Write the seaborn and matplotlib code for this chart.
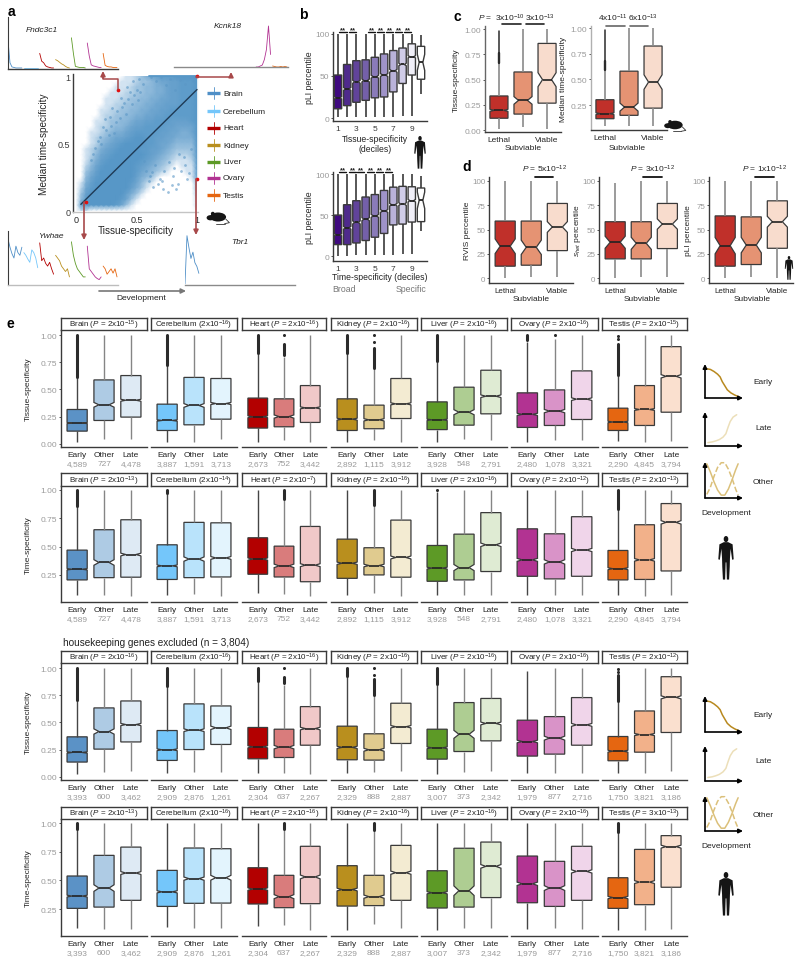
import matplotlib
matplotlib.use('Agg')
import matplotlib.pyplot as plt
import pandas as pd
import seaborn as sns
from matplotlib.colors import LinearSegmentedColormap
from matplotlib.patches import Circle, Ellipse, Polygon

sns.set_style('white')
plt.rcParams['font.family'] = ['Liberation Sans', 'DejaVu Sans']
plt.rcParams['mathtext.fontset'] = 'custom'
plt.rcParams['mathtext.rm'] = 'Liberation Sans'
plt.rcParams['mathtext.it'] = 'Liberation Sans:italic'
plt.rcParams['mathtext.bf'] = 'Liberation Sans:bold'

W, H = 800, 962
GREY = '#9a9a9a'
DARK = '#3a3a3a'

# ---- panel a ----
TISSUES = ['Brain', 'Cerebellum', 'Heart', 'Kidney', 'Liver', 'Ovary', 'Testis']
TISSUE_COLORS = ['#4f8fc7', '#74c6fa', '#b30000', '#b98f1e', '#5d9a26', '#b23392', '#e56611']

# density of the scatter cloud, one digit per grid node, top row is y = 1
cloud_rows = [
    '0000000000112356788899999',
    '0000000001112334566778889',
    '0000000011123344556778889',
    '0000000111223344556778889',
    '0000001112233445566778889',
    '0000001122334455667778889',
    '0000011223344556677888889',
    '0000012233445566778888889',
    '0000112334456677888777789',
    '0000122344567788887766669',
    '0001123455678888877665569',
    '0001234566789988776655559',
    '0001245678999988766544449',
    '0012356789999887765433339',
    '0012467899999987654322239',
    '0013578999999876543211129',
    '0024689999998765432101119',
    '0035799999998654321000118',
    '0046899999997543100000017',
    '0157999999986421000000004',
    '0268999999975310000000003',
    '0379999999753100000000002',
    '0489999998631000000000001',
    '0799999986310000000000001',
    '0110000000000000000000000',
]
speckle_x = [.12, .16, .2, .22, .25, .28, .3, .33, .37, .4, .42, .45, .47, .5, .52, .55, .6, .64,
             .68, .72, .76, .8, .84, .87, .9, .93, .62, .66, .7, .74, .78, .82, .86, .9, .94, .97,
             .14, .18, .21, .24, .27, .29, .31, .34, .36, .38, .41, .43, .46, .48, .51, .53,
             .58, .61, .65, .69, .73, .77, .81, .85, .89, .92, .95, .56, .63, .71, .79, .83]
speckle_y = [.38, .47, .55, .62, .6, .7, .76, .66, .84, .8, .92, .88, .96, .9, .98, .94, .22, .18,
             .2, .16, .14, .26, .2, .3, .34, .28, .99, .96, .99, .93, .98, .9, .97, .94, .99, .96,
             .42, .52, .5, .68, .56, .63, .58, .74, .69, .77, .72, .83, .79, .86, .82, .88,
             .3, .26, .34, .24, .3, .36, .32, .42, .4, .24, .46, .37, .29, .22, .19, .16]
diag_x = [.04, 1]
diag_y = [.05, .9]
right_x = [1, 1]
right_y = [.25, 1]
top_x = [.6, 1]
top_y = [1, 1]
red_x = [.08, .35, 1, 1]
red_y = [.07, .9, 1, .24]

# expression over development, one list per tissue
fndc3c1 = [[.55, .12, .04, .03, .02, .02, .02, .02], [.02, .02, .02, .02, .02, .02, .02, .02],
           [.3, .15, .12, .06, .04, .03, .02, .02], [.18, .16, .13, .1, .08, .05, .03, .02],
           [.6, .3, .05, .04, .03, .03, .03, .02], [.5, .25, .08, .06, .05, .04, .03, .03],
           [.3, .07, .05, .04, .04, .03, .03, .03]]
kcnk18 = [[0, 0, 0, 0, 0, 0, 0, 0], [0, 0, 0, 0, 0, 0, 0, 0], [0, 0, 0, 0, 0, 0, 0, 0],
          [0, 0, 0, 0, 0, 0, 0, 0], [0, 0, 0, 0, 0, 0, 0, 0], [0, 0, .02, .04, .15, .35, .82, .25],
          [.02, .01, 0, 0, .01, 0, .01, 0]]
ywhae = [[.85, .7, .58, .5, .72, .6, .55, .7], [.6, .55, .48, .42, .65, .6, .5, .32],
         [.78, .45, .5, .4, .35, .42, .3, .2], [.55, .5, .45, .35, .3, .25, .3, .15],
         [.8, .55, .4, .3, .25, .2, .15, .15], [.72, .3, .25, .2, .15, .12, .1, .15],
         [.35, .3, .2, .25, .3, .22, .3, .15]]
tbr1 = [[.02, .93, .7, .5, .62, .42, .35, .22], [0, 0, 0, 0, 0, 0, 0, 0], [0, 0, 0, 0, 0, 0, 0, 0],
        [0, 0, 0, 0, 0, 0, 0, 0], [0, 0, 0, 0, 0, 0, 0, 0], [0, 0, 0, 0, 0, 0, 0, 0],
        [0, 0, 0, 0, 0, 0, 0, 0]]

# ---- panel b: (low, q1, median, q3, high) ----
DECILES = ['1', '2', '3', '4', '5', '6', '7', '8', '9', '10']
DECILE_TICKS = ['1', '', '3', '', '5', '', '7', '', '9', '']
decile_colors = ['#3f0a7f', '#4f2a8c', '#61439a', '#7460a9', '#8a7bb9', '#9f93c8', '#b9b2d9',
                 '#d0cce8', '#f0eff8', '#ffffff']
decile_n = [1800, 1800, 1800, 1800, 1800, 1800, 1800, 1800, 1800, 40]
pli_by_tissue = [(1, 11, 24, 51, 100), (1, 14.7, 34.5, 63.5, 100), (1, 18.7, 43, 68, 100),
                 (1, 21, 44.5, 69, 100), (1, 24, 49, 72, 100), (1, 25, 51, 76, 100),
                 (1, 31, 56, 80, 100), (3, 41, 63.5, 83, 100), (3, 51, 72.6, 88, 100),
                 (28.5, 46, 66, 85, 98)]
pli_by_time = [(.5, 14, 26, 50, 100), (.5, 14, 34.5, 62.6, 100), (1, 16, 41, 67.5, 100),
               (1, 19, 45, 72, 100), (1, 23, 49, 75, 100), (1, 27.6, 55, 80, 100),
               (1, 38, 62.6, 84, 100), (2, 39, 63.4, 85, 100), (2.5, 41.5, 67.5, 84.5, 100),
               (31, 42, 68, 83, 98)]

# ---- panels c and d ----
VIABILITY = ['Lethal', 'Subviable', 'Viable']
viability_colors = ['#c0302a', '#e59373', '#f8dccd']
c_tissue = [(.01, .119, .197, .339, .66), (.034, .16, .295, .576, 1), (.01, .268, .5, .858, 1)]
c_time = [(.045, .117, .166, .302, .59), (.05, .15, .23, .58, 1), (.05, .22, .474, .825, 1)]
c_n = [1200, 300, 180]
c_tissue_fliers = [(.66, .76), (.76, .98)]
c_time_fliers = [(.59, .68), (.68, .98)]
d_rvis = [(0, 12.3, 32.8, 58.7, 100), (1, 13.3, 31.7, 58.7, 100), (1, 28.3, 52.6, 76.8, 100)]
d_shet = [(0, 19.8, 36.9, 58, 97.6), (1, 19.8, 35.8, 58, 100), (1, 30.4, 55.6, 76.8, 100)]
d_pli = [(0, 12.3, 33.4, 64, 100), (1, 14, 34, 63, 100), (0, 30.7, 58, 79.5, 100)]
d_n = [92, 92, 190]

# ---- panel e ----
STAGES = ['Early', 'Other', 'Late']
stage_colors = [['#5b92c6', '#aecbe4', '#deeaf4'], ['#74c6fa', '#b9e3fb', '#e3f4fd'],
                ['#b30000', '#d97c7c', '#f0c8c8'], ['#b98f1e', '#e0cb8f', '#f3ebd2'],
                ['#5d9a26', '#aecd92', '#dfebd3'], ['#b23392', '#d993c8', '#f0d5ea'],
                ['#e56611', '#f2b18a', '#fae0cf']]

n_all = [[4589, 727, 4478], [3887, 1591, 3713], [2673, 752, 3442], [2892, 1115, 3912],
         [3928, 548, 2791], [2480, 1078, 3321], [2290, 4845, 3794]]
n_nohk = [[3393, 600, 3462], [2909, 2876, 1261], [2304, 637, 2267], [2329, 888, 2887],
          [3007, 373, 2342], [1979, 877, 2716], [1750, 3821, 3186]]

tissue_all = [
    [(.015, .116, .19, .315, .61), (.04, .214, .358, .587, 1), (.04, .245, .4, .627, 1)],
    [(.02, .122, .214, .364, .72), (.02, .174, .352, .61, 1), (.04, .226, .37, .6, 1)],
    [(.02, .144, .248, .42, .83), (.03, .156, .25, .413, .8), (.02, .196, .33, .535, 1)],
    [(.02, .122, .226, .413, .83), (.035, .138, .22, .355, .7), (.02, .232, .367, .6, 1)],
    [(.015, .13, .22, .385, .765), (.04, .171, .29, .52, 1), (.035, .275, .437, .676, 1)],
    [(.02, .15, .27, .468, .94), (.03, .168, .3, .495, .96), (.03, .223, .41, .67, 1)],
    [(.025, .122, .2, .327, .636), (.02, .168, .315, .535, 1), (.025, .29, .62, .893, 1)],
]
time_all = [
    [(.07, .206, .3, .469, .86), (.07, .226, .36, .649, 1), (.06, .23, .43, .737, 1)],
    [(.07, .21, .33, .516, .97), (.08, .226, .39, .714, 1), (.06, .232, .4, .71, 1)],
    [(.09, .256, .39, .578, 1), (.085, .232, .33, .504, .92), (.06, .19, .336, .678, 1)],
    [(.07, .22, .353, .566, 1), (.09, .25, .333, .49, .87), (.06, .23, .404, .734, 1)],
    [(.07, .194, .31, .51, .98), (.07, .206, .315, .61, 1), (.07, .28, .516, .8, 1)],
    [(.07, .238, .383, .657, 1), (.07, .215, .365, .613, 1), (.07, .238, .47, .764, 1)],
    [(.07, .206, .305, .466, .83), (.06, .21, .383, .693, 1), (.07, .285, .714, .88, 1)],
]
tissue_nohk = [
    [(.025, .135, .223, .367, .71), (.04, .254, .416, .633, 1), (.05, .32, .48, .697, 1)],
    [(.03, .15, .248, .425, .83), (.04, .25, .428, .67, 1), (.04, .297, .45, .651, 1)],
    [(.03, .165, .275, .453, .88), (.03, .177, .272, .437, .84), (.025, .29, .443, .645, 1)],
    [(.03, .156, .27, .465, .93), (.04, .153, .248, .395, .75), (.05, .306, .46, .676, 1)],
    [(.025, .162, .266, .437, .85), (.04, .232, .39, .682, 1), (.05, .33, .49, .72, 1)],
    [(.03, .19, .324, .52, .975), (.03, .208, .355, .553, 1), (.03, .29, .477, .728, 1)],
    [(.03, .147, .235, .37, .697), (.03, .226, .388, .605, 1), (.05, .407, .73, .92, 1)],
]
time_nohk = [
    [(.085, .256, .363, .538, .95), (.08, .267, .433, .718, 1), (.08, .326, .564, .79, 1)],
    [(.09, .273, .4, .587, 1), (.085, .3, .515, .782, 1), (.085, .302, .523, .776, 1)],
    [(.105, .294, .424, .61, 1), (.108, .262, .358, .544, .95), (.07, .297, .53, .797, 1)],
    [(.07, .276, .42, .628, 1), (.116, .28, .358, .544, .94), (.085, .326, .567, .805, 1)],
    [(.07, .259, .392, .584, 1), (.085, .267, .41, .78, 1), (.085, .35, .622, .834, 1)],
    [(.08, .305, .47, .712, 1), (.085, .273, .433, .666, 1), (.08, .326, .578, .797, 1)],
    [(.07, .256, .35, .523, .92), (.07, .288, .485, .77, 1), (.08, .44, .794, .89, 1)],
]

# outliers as (tissue index, stage index, low, high); low == high is a single dot
fliers_tissue_all = [(0, 0, .61, 1), (1, 0, .72, 1), (2, 0, .83, 1), (2, 1, .82, .92), (2, 1, 1, 1),
                     (3, 0, .83, 1), (3, 1, .7, .88), (3, 1, .94, .94), (3, 1, 1, 1), (4, 0, .765, 1),
                     (5, 0, .95, 1), (5, 1, 1, 1), (6, 0, .636, .92), (6, 0, .96, .96), (6, 0, .99, .99)]
fliers_time_all = [(0, 0, .86, 1), (1, 0, .97, 1), (2, 1, .92, 1), (3, 1, .87, 1), (4, 0, 1, 1),
                   (6, 0, .83, 1)]
fliers_tissue_nohk = [(0, 0, .71, 1), (1, 0, .83, 1), (2, 0, .88, 1), (2, 1, .86, .92), (2, 1, 1, 1),
                      (3, 0, .93, 1), (3, 1, .75, .9), (3, 1, .94, .94), (3, 1, 1, 1), (4, 0, .85, 1),
                      (6, 0, .697, .933), (6, 0, .96, .96), (6, 0, .99, .99)]
fliers_time_nohk = [(0, 0, .95, 1), (2, 1, .95, 1), (3, 1, .94, 1), (6, 0, .92, 1)]

strips_tissue_all = ['Brain ($\\mathit{P}$ = 2x10$^{-15}$)', 'Cerebellum (2x10$^{-16}$)',
                     'Heart ($\\mathit{P}$ = 2x10$^{-16}$)', 'Kidney ($\\mathit{P}$ = 2x10$^{-16}$)',
                     'Liver ($\\mathit{P}$ = 2x10$^{-16}$)', 'Ovary ($\\mathit{P}$ = 2x10$^{-16}$)',
                     'Testis ($\\mathit{P}$ = 2x10$^{-15}$)']
strips_time_all = ['Brain ($\\mathit{P}$ = 2x10$^{-13}$)', 'Cerebellum (2x10$^{-14}$)',
                   'Heart ($\\mathit{P}$ = 2x10$^{-7}$)', 'Kidney ($\\mathit{P}$ = 2x10$^{-16}$)',
                   'Liver ($\\mathit{P}$ = 2x10$^{-16}$)', 'Ovary ($\\mathit{P}$ = 2x10$^{-12}$)',
                   'Testis ($\\mathit{P}$ = 2x10$^{-13}$)']
strips_tissue_nohk = ['Brain ($\\mathit{P}$ = 2x10$^{-16}$)', 'Cerebellum (2x10$^{-16}$)',
                      'Heart ($\\mathit{P}$ = 2x10$^{-16}$)', 'Kidney ($\\mathit{P}$ = 2x10$^{-16}$)',
                      'Liver ($\\mathit{P}$ = 2x10$^{-16}$)', 'Ovary ($\\mathit{P}$ = 2x10$^{-16}$)',
                      'Testis ($\\mathit{P}$ = 2x10$^{-12}$)']
strips_time_nohk = ['Brain ($\\mathit{P}$ = 2x10$^{-13}$)', 'Cerebellum (2x10$^{-16}$)',
                    'Heart ($\\mathit{P}$ = 2x10$^{-16}$)', 'Kidney ($\\mathit{P}$ = 2x10$^{-16}$)',
                    'Liver ($\\mathit{P}$ = 2x10$^{-16}$)', 'Ovary ($\\mathit{P}$ = 2x10$^{-16}$)',
                    'Testis ($\\mathit{P}$ = 3x10$^{-13}$)']

# pixel layout of the facet columns
panel_left = [61, 151, 242, 331, 421, 511, 602]
panel_right = [147, 237, 326, 417, 507, 598, 687]

fig = plt.figure(figsize=(W / 100, H / 100), dpi=100)


def px_axes(left, top, right, bottom, **kw):
    return fig.add_axes([left / W, 1 - bottom / H, (right - left) / W, (bottom - top) / H], **kw)


def expand(stats, n):
    # a sample of about n values with exactly these quartiles, so the notches come out from n
    low, q1, med, q3, high = stats
    m = n // 4
    return [low] * m + [q1] * m + [med] + [q3] * m + [high] * m


def draw_boxes(ax, stats, counts, names, colors, width=.75, lw=.9, whisk=None, whisk_lw=1.0):
    rows = []
    for name, s, n in zip(names, stats, counts):
        rows.append(pd.DataFrame({'group': name, 'value': expand(s, n)}))
    df = pd.concat(rows, ignore_index=True)
    sns.boxplot(data=df, x='group', y='value', hue='group', order=names, hue_order=names,
                palette=dict(zip(names, colors)), saturation=1, width=width, whis=(0, 100),
                notch=True, showcaps=False, legend=False, ax=ax, linecolor=DARK, linewidth=lw,
                whiskerprops={'linewidth': whisk_lw},
                medianprops={'color': '#222222', 'linewidth': lw + .3})
    if whisk:
        # whiskers are the only vertical two-point lines seaborn leaves on the axes
        for line in ax.lines:
            xs = line.get_xdata()
            if len(xs) == 2 and xs[0] == xs[1]:
                line.set_color(whisk[int(round(xs[0]))])
    ax.set_xlabel('')
    ax.set_ylabel('')
    ax.set_facecolor('none')


def style_axis(ax, left=True, tick_size=6):
    ax.spines['top'].set_visible(False)
    ax.spines['right'].set_visible(False)
    ax.spines['left'].set_visible(left)
    for s in ('left', 'bottom'):
        ax.spines[s].set_color(DARK)
        ax.spines[s].set_linewidth(1.0)
    ax.tick_params(axis='both', length=1.5, width=.6, pad=1.2, labelsize=tick_size, color=DARK)
    ax.tick_params(axis='y', labelcolor=GREY, left=left, labelleft=left)


def y_label(ax, text, x_px, left_px, right_px, size=6):
    ax.set_ylabel(text, fontsize=size)
    ax.yaxis.set_label_coords((x_px - left_px) / (right_px - left_px), .5)


def draw_fliers(ax, entries, width=2.2):
    for x, low, high in entries:
        if low == high:
            ax.plot([x], [low], color='#2b2b2b', marker='o', ms=width, mew=0, zorder=4, clip_on=False)
        else:
            ax.plot([x, x], [low, high], color='#2b2b2b', lw=width, solid_capstyle='round', zorder=4)


def gene_frame(series):
    rows = []
    for i, (name, values) in enumerate(zip(TISSUES, series)):
        for j, v in enumerate(values):
            rows.append({'tissue': name, 'stage': i * 8 + j, 'expr': v})
    return pd.DataFrame(rows)


def gene_axes(left, top, right, bottom, series, left_spine=True, base=DARK):
    ax = px_axes(left, top, right, bottom)
    ax.set_facecolor('none')
    sns.lineplot(data=gene_frame(series), x='stage', y='expr', hue='tissue', hue_order=TISSUES,
                 palette=dict(zip(TISSUES, TISSUE_COLORS)), estimator=None, errorbar=None,
                 legend=False, lw=.6, ax=ax)
    ax.set_xlim(0, 55.5)
    ax.set_ylim(0, 1)
    ax.set_xticks([])
    ax.set_yticks([])
    ax.set_xlabel('')
    ax.set_ylabel('')
    ax.spines['top'].set_visible(False)
    ax.spines['right'].set_visible(False)
    ax.spines['left'].set_visible(left_spine)
    ax.spines['left'].set_color(DARK)
    ax.spines['bottom'].set_color(base)
    ax.spines['bottom'].set_linewidth(1)
    return ax


# panel a, scatter
density = [[int(c) for c in row] for row in cloud_rows]
cloud_cmap = LinearSegmentedColormap.from_list(
    'cloud', [(0, '#ffffff'), (.11, '#d2e3f1'), (.33, '#9cc2df'), (.66, '#6ea5cf'), (1, '#5797c7')])
ax_cloud = px_axes(76, 77, 197, 212)
sns.heatmap(density, vmin=0, vmax=9, cmap=cloud_cmap, cbar=False, xticklabels=False,
            yticklabels=False, shading='gouraud', ax=ax_cloud)
ax_cloud.set_xlim(0, len(density[0]) - 1)
ax_cloud.set_ylim(len(density) - 1, 0)
ax_cloud.axis('off')

ax_a = px_axes(73, 75, 198, 213)
ax_a.set_facecolor('none')
sns.scatterplot(x=speckle_x, y=speckle_y, s=4, color='#5b97c6', alpha=.6, linewidth=0, ax=ax_a)
sns.lineplot(x=right_x, y=right_y, color='#5797c7', lw=1.3, ax=ax_a)
sns.lineplot(x=top_x, y=top_y, color='#5797c7', lw=1.3, ax=ax_a)
sns.lineplot(x=diag_x, y=diag_y, color='#1f3a55', lw=1, ax=ax_a)
sns.scatterplot(x=red_x, y=red_y, s=7, color='#e01010', linewidth=0, ax=ax_a, zorder=5, clip_on=False)
ax_a.set_xlim(-.025, 1.008)
ax_a.set_ylim(-.007, 1.015)
ax_a.set_xticks([0, .5, 1], ['0', '0.5', '1'])
ax_a.set_yticks([0, .5, 1], ['0', '0.5', '1'])
style_axis(ax_a, tick_size=6.5)
ax_a.spines['bottom'].set_color('#c4c4c4')
ax_a.tick_params(axis='y', labelcolor=DARK)
ax_a.tick_params(axis='both', length=0, pad=2)
ax_a.set_xlabel('Tissue-specificity', fontsize=7.2, labelpad=1)
y_label(ax_a, 'Median time-specificity', 49, 73, 198, size=7.2)

gene_axes(8, 18, 118, 70, fndc3c1)
gene_axes(174, 18, 288, 68, kcnk18, left_spine=False, base='#8a8a8a')
gene_axes(8, 232, 118, 286, ywhae, base='#bdbdbd')
gene_axes(185, 233, 295, 286, tbr1, left_spine=False, base='#8a8a8a')

# panel b
ax_b1 = px_axes(333, 33, 427, 122)
draw_boxes(ax_b1, pli_by_tissue, decile_n, DECILES, decile_colors, width=.8, lw=1, whisk_lw=1.2)
ax_b1.set_xlim(-.54, 9.65)
ax_b1.set_ylim(-3.5, 102)
ax_b1.set_yticks([0, 50, 100])
ax_b1.set_xticks(range(10), DECILE_TICKS)
style_axis(ax_b1, tick_size=6)
ax_b1.tick_params(axis='x', labelcolor=DARK)
y_label(ax_b1, 'pLI percentile', 314, 333, 427, size=6.3)

ax_b2 = px_axes(333, 173, 427, 262)
draw_boxes(ax_b2, pli_by_time, decile_n, DECILES, decile_colors, width=.8, lw=1, whisk_lw=1.2)
ax_b2.set_xlim(-.54, 9.65)
ax_b2.set_ylim(-6, 102.5)
ax_b2.set_yticks([0, 50, 100])
ax_b2.set_xticks(range(10), DECILE_TICKS)
style_axis(ax_b2, tick_size=6)
ax_b2.tick_params(axis='x', labelcolor=DARK)
y_label(ax_b2, 'pLI percentile', 314, 333, 427, size=6.3)

# panel c
soft = ['#8a8a8a', '#8a8a8a', '#8a8a8a']
ax_c1 = px_axes(485, 27, 561, 133)
draw_boxes(ax_c1, c_tissue, c_n, VIABILITY, viability_colors, width=.75, whisk=soft, whisk_lw=1.2)
ax_c1.set_xlim(-.58, 2.58)
ax_c1.set_ylim(-.017, 1.03)
ax_c1.set_yticks([0, .25, .5, .75, 1], ['0.00', '0.25', '0.50', '0.75', '1.00'])
ax_c1.set_xticks([0, 2], ['Lethal', 'Viable'])
style_axis(ax_c1)
ax_c1.spines['left'].set_color('#666666')
draw_fliers(ax_c1, [(0, *c_tissue_fliers[0])], width=1.7)
draw_fliers(ax_c1, [(0, *c_tissue_fliers[1])], width=1.1)
y_label(ax_c1, 'Tissue-specificity', 460, 485, 561)

ax_c2 = px_axes(591, 27, 667, 131)
draw_boxes(ax_c2, c_time, c_n, VIABILITY, viability_colors, width=.75, whisk=soft, whisk_lw=1.2)
ax_c2.set_xlim(-.58, 2.58)
ax_c2.set_ylim(.007, 1.02)
ax_c2.set_yticks([.25, .5, .75, 1], ['0.25', '0.50', '0.75', '1.00'])
ax_c2.set_xticks([0, 2], ['Lethal', 'Viable'])
style_axis(ax_c2)
ax_c2.spines['left'].set_color('#b0b0b0')
draw_fliers(ax_c2, [(0, *c_time_fliers[0])], width=1.7)
draw_fliers(ax_c2, [(0, *c_time_fliers[1])], width=1.1)
y_label(ax_c2, 'Median time-specificity', 567, 591, 667)

# panel d
for left, stats, text, label_x in [(489, d_rvis, 'RVIS percentile', 471),
                                   (599, d_shet, '$\\mathit{s}_{het}$ percentile', 583),
                                   (709, d_pli, 'pLI percentile', 692)]:
    ax_d = px_axes(left, 178, left + 84, 284)
    draw_boxes(ax_d, stats, d_n, VIABILITY, viability_colors, width=.77, whisk=soft, whisk_lw=1.2)
    ax_d.set_xlim(-.62, 2.6)
    ax_d.set_ylim(-5, 104)
    ax_d.set_yticks([0, 25, 50, 75, 100])
    ax_d.set_xticks([0, 2], ['Lethal', 'Viable'])
    style_axis(ax_d, tick_size=5.8)
    y_label(ax_d, text, label_x, left, left + 84)

# panel e
stage_whisk = ['#454545', '#858585', '#858585']
rows = [
    (tissue_all, n_all, fliers_tissue_all, strips_tissue_all, 'Tissue-specificity',
     319, 331, 448, (-.03, 1.046), [0, .25, .5, .75, 1], ['0.00', '0.25', '0.50', '0.75', '1.00']),
    (time_all, n_all, fliers_time_all, strips_time_all, 'Time-specificity',
     474, 487, 603, (.011, 1.035), [.25, .5, .75, 1], ['0.25', '0.50', '0.75', '1.00']),
    (tissue_nohk, n_nohk, fliers_tissue_nohk, strips_tissue_nohk, 'Tissue-specificity',
     652, 664, 781, (-.03, 1.046), [0, .25, .5, .75, 1], ['0.00', '0.25', '0.50', '0.75', '1.00']),
    (time_nohk, n_nohk, fliers_time_nohk, strips_time_nohk, 'Time-specificity',
     808, 820, 937, (.015, 1.035), [.25, .5, .75, 1], ['0.25', '0.50', '0.75', '1.00']),
]
for stats, counts, fliers, strips, ylabel, strip_top, top, bottom, ylim, yticks, ylabs in rows:
    for i, tissue in enumerate(TISSUES):
        ax = px_axes(panel_left[i], top, panel_right[i], bottom)
        draw_boxes(ax, stats[i], counts[i], STAGES, stage_colors[i], whisk=stage_whisk)
        ax.set_xlim(-.6, 2.6)
        ax.set_ylim(*ylim)
        ax.set_yticks(yticks, ylabs)
        ax.set_xticks(range(3), STAGES)
        style_axis(ax, left=i == 0)
        ax.tick_params(axis='x', labelcolor='#222222')
        draw_fliers(ax, [(f[1], f[2], f[3]) for f in fliers if f[0] == i])
        for j, n in enumerate(counts[i]):
            ax.text(j, -18 / (bottom - top), f'{n:,}', transform=ax.get_xaxis_transform(),
                    ha='center', va='baseline', fontsize=6, color=GREY)
        if i == 0:
            y_label(ax, ylabel, 32, panel_left[0], panel_right[0])
        strip = px_axes(panel_left[i], strip_top, panel_right[i], top)
        strip.set_xticks([])
        strip.set_yticks([])
        for s in strip.spines.values():
            s.set_color(DARK)
            s.set_linewidth(1)
        strip.text(.5, .47, strips[i], transform=strip.transAxes, ha='center', va='center',
                   fontsize=5.8, color='#222222')

# everything placed by hand goes on one overlay in pixel coordinates
ov = fig.add_axes([0, 0, 1, 1], zorder=20)
ov.set_xlim(0, W)
ov.set_ylim(H, 0)
ov.axis('off')


def label(x, y, s, size=6, color='#222222', **kw):
    kw.setdefault('ha', 'center')
    kw.setdefault('va', 'center')
    ov.text(x, y, s, fontsize=size, color=color, **kw)


def arrow(start, end, color, lw=1.2, scale=7):
    ov.annotate('', xy=end, xytext=start,
                arrowprops=dict(arrowstyle='-|>', color=color, lw=lw, mutation_scale=scale,
                                shrinkA=0, shrinkB=0))


def person(cx, top, h, color='#151515'):
    u = h / 10
    ov.add_patch(Ellipse((cx, top + .7 * u), 1.05 * u, 1.4 * u, color=color, lw=0))
    body = [(-.5, 1.4), (.5, 1.4), (1.5, 1.9), (1.75, 5.3), (1.4, 5.4), (1.05, 2.9), (.9, 5), (.85, 7),
            (.7, 9.9), (.2, 9.9), (.08, 6), (-.08, 6), (-.2, 9.9), (-.7, 9.9), (-.85, 7), (-.9, 5),
            (-1.05, 2.9), (-1.4, 5.4), (-1.75, 5.3), (-1.5, 1.9)]
    ov.add_patch(Polygon([(cx + x * u, top + y * u) for x, y in body], color=color, lw=0))


def mouse(x, y, k=1.0, color='#151515'):
    ov.add_patch(Ellipse((x, y), 17 * k, 9.5 * k, color=color, lw=0))
    ov.add_patch(Ellipse((x - 8 * k, y + .8 * k), 8 * k, 5.5 * k, color=color, lw=0))
    ov.add_patch(Circle((x - 5.5 * k, y - 3.5 * k), 2 * k, color=color, lw=0))
    ov.plot([x + 8 * k, x + 12 * k, x + 7 * k], [y + 2 * k, y + 6 * k, y + 7 * k], color='#333333', lw=.6)
    ov.plot([x + 7 * k, x - 2 * k], [y + 7 * k, y + 7 * k], color='#333333', lw=.6)


for s, x, y in [('a', 11, 12), ('b', 303, 15), ('c', 457, 17), ('d', 467, 167), ('e', 10, 324)]:
    label(x, y, s, size=10, weight='bold', color='black')

# panel a annotations
for s, x, y in [('Fndc3c1', 42, 30), ('Kcnk18', 228, 27), ('Ywhae', 51, 236), ('Tbr1', 240, 243)]:
    label(x, y, s, style='italic')
legend_y = [94, 112, 129, 146, 163, 179, 196]
for name, col, y in zip(TISSUES, TISSUE_COLORS, legend_y):
    ov.plot([207, 220], [y, y], color=col, lw=2.4, solid_capstyle='butt')
    ov.plot([213.5, 213.5], [y - 6, y + 6], color=col, lw=.6)
    label(223, y, name, ha='left')

RED = '#a8494a'
ov.plot([118, 118, 103, 103], [90, 80, 80, 78], color=RED, lw=1.1)
arrow((103, 79), (103, 72), RED)
ov.plot([196, 231], [78, 78], color=RED, lw=1.1)
arrow((231, 78), (231, 73), RED)
arrow((84, 203), (84, 241), RED)
arrow((196, 180), (196, 236), RED)
arrow((99, 292), (186, 292), '#777777')
label(141, 298.5, 'Development')
mouse(218, 218, .95)

# panel b annotations
for x0, x1 in [(339, 347), (349, 356), (368, 375), (377, 384), (386, 393), (395, 402), (404, 411)]:
    ov.plot([x0, x1], [33, 33], color='#111111', lw=1)
    label((x0 + x1) / 2, 30.5, '**', size=5.5, fontweight='bold')
for x0, x1 in [(339, 346), (349, 356), (357, 364), (367, 374), (376, 383), (385, 392)]:
    ov.plot([x0, x1], [173, 173], color='#111111', lw=1)
    label((x0 + x1) / 2, 170.5, '**', size=5.5, fontweight='bold')
label(375, 139.5, 'Tissue-specificity', size=6.2)
label(375, 149, '(deciles)', size=6.2)
label(380, 278, 'Time-specificity (deciles)', size=6.2)
label(344, 290, 'Broad', size=6.3, color='#777777')
label(411, 290, 'Specific', size=6.3, color='#777777')
person(420, 137, 33)

# panel c annotations
label(485, 18, '$\\mathit{P}$ =', size=6)
label(510, 18, '3x10$^{-10}$', size=6)
label(540, 18, '3x10$^{-13}$', size=6)
ov.plot([502, 521], [25, 25], color='#222222', lw=1.2)
ov.plot([526, 544], [25, 25], color='#222222', lw=1.2)
label(613, 18, '4x10$^{-11}$', size=6)
label(643, 18, '6x10$^{-13}$', size=6)
ov.plot([606, 625], [27, 27], color='#666666', lw=1.2)
ov.plot([630, 648], [27, 27], color='#666666', lw=1.2)
label(523, 148, 'Subviable', size=6)
label(627, 148, 'Subviable', size=6)
mouse(675, 126, .9)

# panel d annotations
for p, cx, x0, x1, sub in [('5x10$^{-12}$', 544, 535, 553, 531), ('3x10$^{-12}$', 652, 643, 662, 642),
                           ('1x10$^{-12}$', 764, 755, 774, 752)]:
    label(cx, 169, '$\\mathit{P}$ = ' + p, size=6)
    ov.plot([x0, x1], [178, 178], color='#111111', lw=1.3)
    label(sub, 300, 'Subviable', size=6)
person(789, 257, 24)

# panel e side icons
label(63, 643, 'housekeeping genes excluded (n = 3,804)', size=7.2, ha='left')
early_x = [.05, .15, .25, .35, .42, .48, .55, .62, .72, .82, .95]
early_y = [.86, .84, .78, .7, .62, .48, .36, .24, .15, .09, .03]
late_x = [.08, .2, .3, .4, .5, .58, .64, .7, .78, .88]
late_y = [.1, .12, .15, .19, .26, .36, .55, .72, .85, .92]
other_x = [.05, .15, .25, .35, .45, .55, .65, .75, .85, .92]
other_solid = [.95, .72, .45, .22, .08, .08, .25, .5, .78, .95]
other_dash = [.1, .3, .6, .85, .98, .98, .8, .55, .25, .08]


def icon(x0, top, bottom, curves):
    x1 = x0 + 38
    arrow((x0, bottom), (x0, top), 'black', lw=1.2, scale=6)
    arrow((x0, bottom), (x1, bottom), 'black', lw=1.2, scale=6)
    for xs, ys, col, style in curves:
        ov.plot([x0 + x * 36 for x in xs], [bottom - y * (bottom - top) for y in ys], color=col,
                lw=1.1, ls=style)


for t1, b1, t2, b2, t3, b3, y1, y2, y3, dev, hum in [(365, 399, 413, 447, 463, 499, 383, 429, 483, 514, 537),
                                                     (697, 733, 747, 782, 797, 832, 716, 762, 816, 847, 873)]:
    icon(705, t1, b1, [(early_x, early_y, '#b8891f', '-')])
    icon(705, t2, b2, [(late_x, late_y, '#ecdfb9', '-')])
    icon(705, t3, b3, [(other_x, other_solid, '#dbc07a', '-'), (other_x, other_dash, '#dbc07a', '--')])
    label(763, y1, 'Early')
    label(763, y2, 'Late')
    label(763, y3, 'Other')
    label(726, dev, 'Development')
    person(726, hum, 44)

fig.savefig('out.png', dpi=100)
